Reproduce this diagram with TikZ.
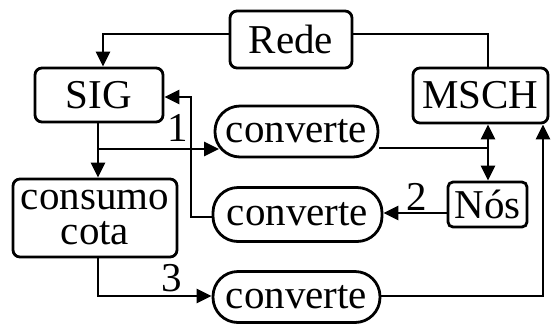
\documentclass[tikz,border=0pt]{standalone}
\usepackage{fontspec}
\setmainfont{Liberation Serif}
\usetikzlibrary{arrows.meta,calc}
\begin{document}
\begin{tikzpicture}[x=1pt,y=-1pt,
  lw/.style={line width=2.8pt},
  box/.style={draw,lw,rounded corners=7pt,inner sep=0pt,font=\fontsize{41}{40}\selectfont,align=center},
  pill/.style={draw,lw,rounded corners=25pt,inner sep=0pt,font=\fontsize{41}{40}\selectfont},
  conn/.style={lw},
  arr/.style={lw,-{Triangle[length=15pt,width=14pt]}},
  darr/.style={lw,{Triangle[length=15pt,width=14pt]}-{Triangle[length=15pt,width=14pt]}},
  lbl/.style={inner sep=0pt,font=\fontsize{41}{40}\selectfont}]
\useasboundingbox (0,0) rectangle (551,325);
\fill[white] (0,0) rectangle (551,325);
\node[box,minimum width=122pt,minimum height=57pt] (rede) at (291,39.5) {Rede};
\node[box,minimum width=128pt,minimum height=54pt] (sig) at (99,95) {SIG};
\node[box,minimum width=135pt,minimum height=55pt] (msch) at (480.5,95.5) {MSCH};
\node[pill,minimum width=163pt,minimum height=51pt] (c1) at (296.5,131.5) {converte};
\node[pill,minimum width=169pt,minimum height=54pt] (c2) at (297.5,214.5) {converte};
\node[pill,minimum width=167pt,minimum height=51pt] (c3) at (296.5,297) {converte};
\node[box,minimum width=164pt,minimum height=78pt,font=\fontsize{41}{35}\selectfont] (cons) at (95,218) {consumo\\cota};
\node[box,rounded corners=5pt,minimum width=79pt,minimum height=45pt] (nos) at (487.5,204.5) {Nós};
\node[lbl] (l1) at (178,128) {1};
\node[lbl] (l2) at (417,197) {2};
\node[lbl] (l3) at (172,278) {3};
% connectors
\coordinate (rw) at (230,34);
\coordinate (re) at (352,34);
\draw[arr] (rw) -| (sig.north -| 103,0);
\draw[conn] (re) -| (msch.north -| 488,0);
\coordinate (sb) at (98,122);
\coordinate (b1) at (98,149);
\draw[arr] (sb) -- (cons.north -| sb);
\draw[arr] (b1) -- (219,149);
\coordinate (c2w) at (214,217);
\draw[arr] (c2w) -- (191,217) -- (191,97) -- (sig.east |- 0,97);
\draw[arr] (nos.west |- 0,213) -- (c2.east |- 0,213);
\coordinate (m1) at (488,148);
\draw[conn] (c1.east |- m1) -- (m1);
\draw[darr] (msch.south -| m1) -- (nos.north -| m1);
\draw[arr] (c3.east |- 0,296) -- (543,296) -- (msch.south -| 543,0);
\draw[arr] (cons.south -| sb) -- (98,296) -- (c3.west |- 0,296);
\end{tikzpicture}
\end{document}
